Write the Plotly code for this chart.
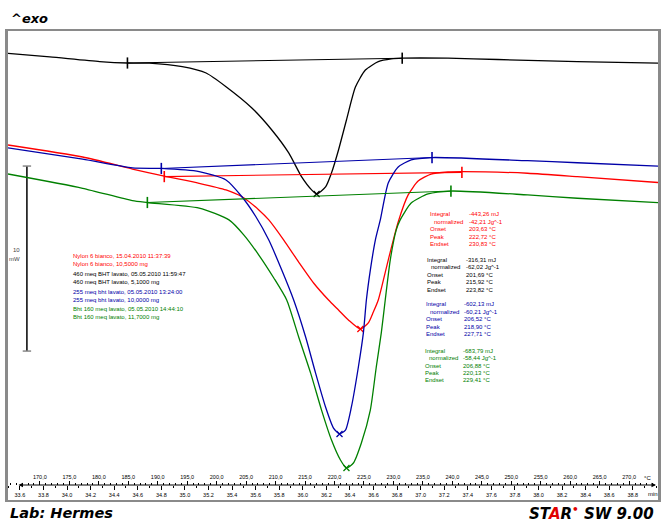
import plotly.graph_objects as go

# ---- curves: temperature (°C) vs heat flow (mW, displayed with offsets) ----
black_T = [164.59, 171.69, 180.14, 184.86, 188.58, 194.16, 198.21, 201.59, 205.98, 209.36,
           212.23, 214.43, 216.11, 216.96, 218.48, 219.49, 220.68, 222.03, 223.55, 225.24,
           227.43, 229.63, 231.49, 239.26, 247.70, 261.22, 274.90]
black_mW = [24.14, 23.95, 23.70, 23.62, 23.61, 23.42, 23.08, 22.34, 21.19, 20.00,
            18.76, 17.46, 16.76, 16.54, 16.92, 17.68, 18.92, 20.54, 22.32, 23.24,
            23.69, 23.84, 23.88, 23.88, 23.81, 23.69, 23.61]

blue_T = [164.59, 177.26, 185.71, 190.61, 197.03, 201.59, 204.29, 206.66, 208.85, 211.05,
          213.07, 215.10, 216.79, 218.48, 219.83, 220.85, 221.86, 222.87, 224.05, 224.90,
          225.41, 226.08, 226.93, 227.77, 229.12, 230.81, 233.01, 236.55, 252.77, 261.22, 274.90]
blue_mW = [19.03, 18.42, 17.95, 17.92, 17.75, 17.30, 16.39, 15.31, 14.05, 12.43,
           10.81, 8.81, 6.86, 5.03, 3.89, 3.57, 3.78, 5.03, 7.19, 9.03,
           10.81, 12.43, 14.05, 15.14, 17.14, 18.00, 18.38, 18.51, 18.34, 18.23, 18.05]

red_T = [164.59, 177.26, 185.71, 191.11, 197.03, 201.59, 204.29, 207.16, 208.85, 211.39,
         213.92, 216.45, 218.99, 220.68, 222.36, 224.39, 225.74, 226.59, 227.43, 229.12,
         230.81, 232.50, 234.19, 236.39, 239.26, 241.62, 252.77, 261.22, 274.90]
red_mW = [19.19, 18.54, 17.89, 17.51, 17.12, 16.76, 16.39, 15.68, 15.14, 14.05,
          12.86, 11.73, 10.81, 10.27, 9.73, 9.24, 9.57, 10.16, 10.81, 12.97,
          15.03, 16.49, 17.24, 17.62, 17.73, 17.75, 17.66, 17.48, 17.16]

green_T = [164.59, 177.26, 185.71, 188.24, 197.03, 202.09, 204.63, 207.16, 209.70, 211.89,
           213.92, 215.95, 217.80, 219.49, 221.01, 222.03, 223.21, 224.56, 226.08, 227.09,
           227.94, 228.61, 229.46, 230.47, 231.15, 233.01, 235.88, 239.76, 252.77, 261.22, 274.90]
green_mW = [17.62, 16.85, 16.18, 16.08, 15.78, 15.14, 14.32, 13.24, 12.00, 10.81,
            8.81, 6.86, 4.86, 3.24, 2.16, 1.73, 2.00, 3.08, 4.86, 7.19,
            9.03, 10.81, 12.97, 14.59, 15.14, 16.05, 16.54, 16.70, 16.49, 16.31, 16.07]

# integration limits (baseline ends) and peak points
black_lim_T, black_lim_mW = [184.86, 231.49], [23.62, 23.88]
blue_lim_T, blue_lim_mW = [190.61, 236.55], [17.92, 18.51]
red_lim_T, red_lim_mW = [191.11, 241.62], [17.48, 17.71]
green_lim_T, green_lim_mW = [188.24, 239.76], [16.08, 16.70]
black_peak = [216.96, 16.54]
blue_peak = [220.85, 3.57]
red_peak = [224.39, 9.24]
green_peak = [222.03, 1.73]

# text
sample_lines = [
    "Nylon 6 bianco, 15.04.2010 11:37:39", "Nylon 6 bianco, 10,5000 mg",
    "460 meq BHT lavato, 05.05.2010 11:59:47", "460 meq BHT lavato, 5,1000 mg",
    "255 meq bht lavato, 05.05.2010 13:24:00", "255 meq bht lavato, 10,0000 mg",
    "Bht 160 meq lavato, 05.05.2010 14:44:10", "Bht 160 meq lavato, 11,7000 mg",
]
stat_names = ["Integral", "  normalized", "Onset", "Peak", "Endset"]
red_stats = ["-443,26 mJ", "-42,21 Jg^-1", "203,63 °C", "222,72 °C", "230,83 °C"]
black_stats = ["-316,31 mJ", "-62,02 Jg^-1", "201,69 °C", "215,92 °C", "223,82 °C"]
blue_stats = ["-602,13 mJ", "-60,21 Jg^-1", "206,52 °C", "218,90 °C", "227,71 °C"]
green_stats = ["-683,79 mJ", "-58,44 Jg^-1", "206,88 °C", "220,13 °C", "229,41 °C"]

temp_ticks = [170, 175, 180, 185, 190, 195, 200, 205, 210, 215, 220, 225, 230, 235,
              240, 245, 250, 255, 260, 265, 270]
temp_labels = [f"{v:.1f}".replace(".", ",") for v in temp_ticks]
time_ticks = [33.6, 33.8, 34.0, 34.2, 34.4, 34.6, 34.8, 35.0, 35.2, 35.4, 35.6, 35.8, 36.0,
              36.2, 36.4, 36.6, 36.8, 37.0, 37.2, 37.4, 37.6, 37.8, 38.0, 38.2, 38.4, 38.6, 38.8]
time_labels = [f"{v:.1f}" for v in time_ticks]

scale_mW = 10
scale_T = 167.8
scale_base = 8.05

T_range = [164.59, 274.90]
t_range = [33.499, 39.014]
mW_range = [0, 25.35]

RED, BLUE, GREEN, BLACK = "#ff0000", "#0000a8", "#008000", "#000000"
FONT = "Liberation Sans"
HEAVY = "DejaVu Sans"


def px(x):
    return (x - 8) / 653


def py(y):
    return (500 - y) / 469


fig = go.Figure()

curves = [
    (black_T, black_mW, black_lim_T, black_lim_mW, black_peak, BLACK),
    (red_T, red_mW, red_lim_T, red_lim_mW, red_peak, RED),
    (blue_T, blue_mW, blue_lim_T, blue_lim_mW, blue_peak, BLUE),
    (green_T, green_mW, green_lim_T, green_lim_mW, green_peak, GREEN),
]
for T, mW, limT, limY, peak, col in curves:
    fig.add_trace(go.Scatter(x=T, y=mW, mode="lines", xaxis="x2",
                             line=dict(color=col, width=1.3, shape="spline", smoothing=0.6),
                             hoverinfo="skip", showlegend=False))
    fig.add_trace(go.Scatter(x=limT, y=limY, mode="lines+markers", xaxis="x2",
                             line=dict(color=col, width=1.1),
                             marker=dict(symbol="line-ns-open", size=8, color=col, line=dict(color=col, width=1.6)),
                             hoverinfo="skip", showlegend=False))
    fig.add_trace(go.Scatter(x=[peak[0]], y=[peak[1]], mode="markers", xaxis="x2",
                             marker=dict(symbol="x-thin-open", size=6, color=col, line=dict(color=col, width=1.3)),
                             hoverinfo="skip", showlegend=False))

# 10 mW scale bar
fig.add_trace(go.Scatter(x=[scale_T, scale_T], y=[scale_base, scale_base + scale_mW], mode="lines+markers",
                         line=dict(color="black", width=1.5),
                         marker=dict(symbol="line-ew-open", size=6, color="#888888",
                                     line=dict(color="#888888", width=1.5)),
                         hoverinfo="skip", showlegend=False))

# time axis carrier (no visible marks)
fig.add_trace(go.Scatter(x=time_ticks, y=[None] * len(time_ticks), xaxis="x3", mode="lines",
                         hoverinfo="skip", showlegend=False))

ann = []
# sample legend
leg_y = [256, 264.3, 274, 282.3, 291.7, 300, 309.3, 316.7]
leg_col = [RED, RED, BLACK, BLACK, BLUE, BLUE, GREEN, GREEN]
for txt, yy, c in zip(sample_lines, leg_y, leg_col):
    ann.append(dict(x=px(71), y=py(yy), text=txt, font=dict(color=c, size=6)))

# result blocks
blocks = [(red_stats, RED, 430, 469, 214.3), (black_stats, BLACK, 427, 466, 260.0),
          (blue_stats, BLUE, 426, 464, 304.3), (green_stats, GREEN, 425, 463, 350.7)]
for vals, c, xl, xv, y0 in blocks:
    for i, (name, v) in enumerate(zip(stat_names, vals)):
        yy = y0 + i * 7.4
        xn = xl + (4 if name.startswith(" ") else 0)
        ann.append(dict(x=px(xn), y=py(yy), text=name.strip(), font=dict(color=c, size=6)))
        ann.append(dict(x=px(xv), y=py(yy), text=v, font=dict(color=c, size=6)))

for a in ann:
    a.update(xref="paper", yref="paper", xanchor="left", yanchor="middle", showarrow=False)

# scale label
ann.append(dict(x=px(22), y=py(250), text="10", xref="paper", yref="paper", xanchor="right",
                yanchor="middle", showarrow=False, font=dict(size=6, color="#444444")))
ann.append(dict(x=px(22), y=py(259), text="mW", xref="paper", yref="paper", xanchor="right",
                yanchor="middle", showarrow=False, font=dict(size=6, color="#444444")))

# axis line with arrows
ann.append(dict(x=px(659), y=py(485), xref="paper", yref="paper", ax=-639, ay=0, axref="pixel", ayref="pixel",
                text="", showarrow=True, arrowside="end+start", arrowhead=2, arrowsize=0.9,
                arrowwidth=1, arrowcolor="black"))
ann.append(dict(x=px(650), y=py(478), text="°C", xref="paper", yref="paper", xanchor="center",
                yanchor="middle", showarrow=False, font=dict(size=6)))
ann.append(dict(x=px(656), y=py(494), text="min", xref="paper", yref="paper", xanchor="center",
                yanchor="middle", showarrow=False, font=dict(size=6)))

# titles / footers
ann.append(dict(x=px(9), y=py(18), text="<b><i>^exo</i></b>", xref="paper", yref="paper", xanchor="left",
                yanchor="middle", showarrow=False, font=dict(family=HEAVY, size=13, color="black")))
ann.append(dict(x=px(8), y=py(513), text="<b><i>Lab: Hermes</i></b>", xref="paper", yref="paper",
                xanchor="left", yanchor="middle", showarrow=False,
                font=dict(family=HEAVY, size=14.5, color="black")))
ann.append(dict(x=px(659), y=py(513),
                text="<b><i>ST<span style='color:#e00000'>A</span>R<span style='color:#e00000'><sup>•</sup></span> SW 9.00</i></b>",
                xref="paper", yref="paper", xanchor="right", yanchor="middle", showarrow=False,
                font=dict(family=HEAVY, size=15, color="black")))

fig.update_layout(
    width=662, height=522,
    margin=dict(l=8, r=1, t=31, b=22),
    paper_bgcolor="white", plot_bgcolor="white",
    font=dict(family=FONT, size=6, color="black"),
    showlegend=False,
    annotations=ann,
    xaxis=dict(range=T_range, showgrid=False, zeroline=False, showticklabels=False, ticks="",
               showline=True, mirror=True, linecolor="#8a8a8a", linewidth=1.5),
    yaxis=dict(range=mW_range, showgrid=False, zeroline=False, showticklabels=False, ticks="",
               showline=True, mirror=True, linecolor="#8a8a8a", linewidth=2.5),
    xaxis2=dict(range=T_range, overlaying="x", anchor="free", position=py(485), side="top",
                showgrid=False, zeroline=False, showline=False, ticks="outside", ticklen=4,
                tickwidth=1, tickcolor="black", tickvals=temp_ticks, ticktext=temp_labels,
                tickfont=dict(size=5.5), minor=dict(dtick=1, tick0=170, ticks="outside", ticklen=2,
                                                     tickcolor="black", showgrid=False)),
    xaxis3=dict(range=t_range, overlaying="x", anchor="free", position=py(485), side="bottom",
                showgrid=False, zeroline=False, showline=False, ticks="outside", ticklen=4,
                tickwidth=1, tickcolor="black", tickvals=time_ticks, ticktext=time_labels,
                tickfont=dict(size=5.5), minor=dict(dtick=0.1, tick0=33.6, ticks="outside", ticklen=2,
                                                     tickcolor="black", showgrid=False)),
)

fig.write_html("out.html", config={"displayModeBar": False},
               post_script="document.body.style.margin='0';")
